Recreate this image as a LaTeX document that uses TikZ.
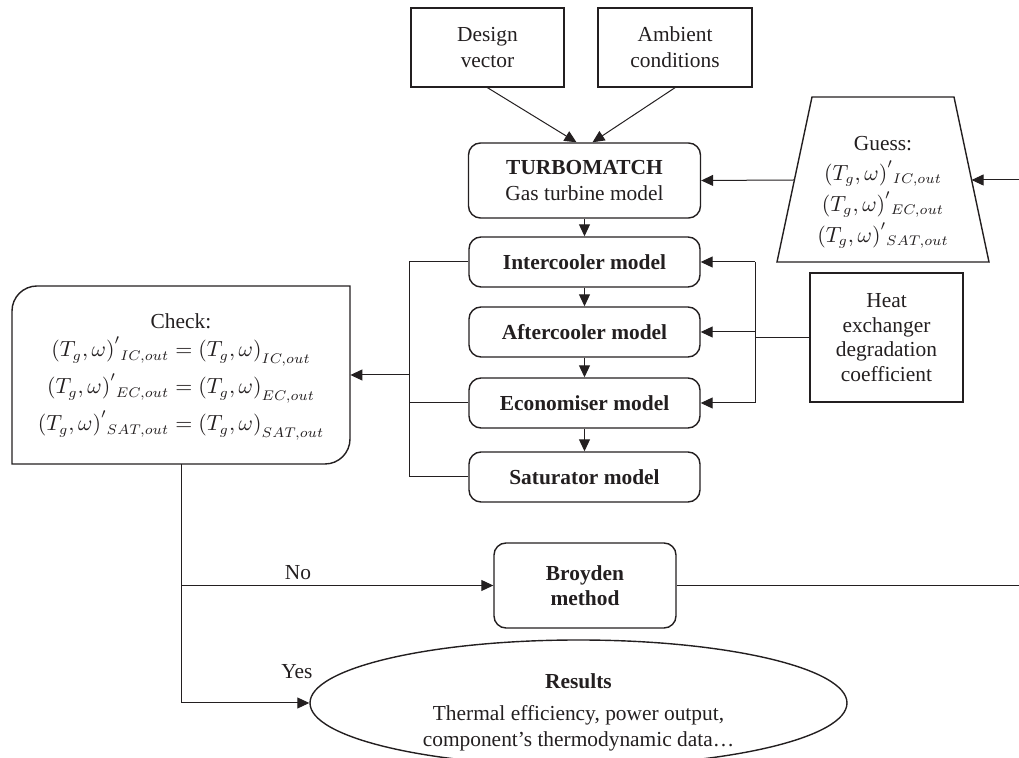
\documentclass[tikz,border=0pt]{standalone}
\usepackage{fontspec}
\setmainfont{Liberation Serif}
\usetikzlibrary{arrows.meta,calc,shapes.geometric}
\definecolor{lc}{RGB}{35,31,32}
\newcommand{\tgw}{\bigl(T_g,\omega\bigr)}
\begin{document}
\begin{tikzpicture}[x=0.5pt,y=-0.5pt,
  every node/.style={font=\fontsize{10.7}{13}\selectfont, text=lc},
  box/.style={draw=lc, line width=0.7pt, inner sep=0pt, align=center},
  rbox/.style={box, rounded corners=6pt},
  mbox/.style={rbox, minimum width=115.5pt, minimum height=25pt, font=\fontsize{10.7}{13}\selectfont\bfseries},
  conn/.style={draw=lc, line width=0.5pt},
  arr/.style={conn, -{Triangle[length=6pt,width=5.5pt]}},
  shapeline/.style={draw=lc, line width=0.7pt},
]
\useasboundingbox (0,0) rectangle (1019,758);

% top inputs
\node[box, minimum width=76.5pt, minimum height=39.5pt] (dv) at (487.5,47.5) {Design\\vector};
\node[box, minimum width=77pt, minimum height=39.5pt] (amb) at (675,47.5) {Ambient\\conditions};

% main chain
\node[rbox, minimum width=116pt, minimum height=37.5pt] (tm) at (584.5,180.5) {\textbf{TURBOMATCH}\\Gas turbine model};
\node[mbox] (ic) at (584.5,262) {Intercooler model};
\node[mbox] (ac) at (584.5,332) {Aftercooler model};
\node[mbox] (ec) at (584.5,403) {Economiser model};
\node[mbox] (sat) at (584.5,477) {Saturator model};

% guess trapezoid
\path[shapeline] (812,97) -- (954,97) -- (989,262) -- (777,262) -- cycle;
\node[align=center, inner sep=0pt] (guess) at (883,192) {Guess:\\[2pt]
  $\tgw'{}_{IC,out}$\\[2.5pt]
  $\tgw'{}_{EC,out}$\\[2.5pt]
  $\tgw'{}_{SAT,out}$};
\coordinate (gL) at (794.4,180);
\coordinate (gR) at (971.6,180);

% heat exchanger
\node[box, minimum width=76.5pt, minimum height=64.5pt, font=\fontsize{10.7}{12.3}\selectfont] (hx) at (886.5,337.5) {Heat\\exchanger\\degradation\\coefficient};

% check box
\path[shapeline] (12,464) -- (12,311) .. controls (12,297.2) and (23.2,286) .. (37,286) -- (350,286) -- (350,439) .. controls (350,452.8) and (338.8,464) .. (325,464) -- cycle;
\node[align=center, inner sep=0pt, minimum width=169pt, minimum height=89pt] (check) at (181,375) {};
\node[align=center, inner sep=0pt] (checktext) at (181,377) {Check:\\[1pt]
  $\tgw'{}_{IC,out}=\tgw_{IC,out}$\\[3pt]
  $\tgw'{}_{EC,out}=\tgw_{EC,out}$\\[3pt]
  $\tgw'{}_{SAT,out}=\tgw_{SAT,out}$};

% Broyden
\node[rbox, minimum width=91pt, minimum height=42.5pt, font=\fontsize{10.7}{12.5}\selectfont\bfseries] (br) at (585,585.5) {Broyden\\method};

% Results
\node[draw=lc, line width=0.7pt, ellipse, minimum width=268.5pt, minimum height=63pt, inner sep=0pt] (res) at (578.5,703) {};
\node[align=center, inner sep=0pt] (restext) at (578.5,712) {\textbf{Results}\\[3pt]Thermal efficiency, power output,\\component’s thermodynamic data…};

% labels
\node (no) at (298,573) {No};
\node (yes) at (297,672) {Yes};

% helper coordinates
\coordinate (lbus) at (409,0);
\coordinate (rbus) at (755,0);
\coordinate (rt) at (1022,0);

% connectors
\draw[arr] (dv.south) -- ($(tm.north)+(-8,0)$);
\draw[arr] (amb.south) -- ($(tm.north)+(8,0)$);
\draw[arr] (tm) -- (ic);
\draw[arr] (ic) -- (ac);
\draw[arr] (ac) -- (ec);
\draw[arr] (ec) -- (sat);
\draw[arr] (gL) -- (tm.east);
\draw[arr] (br.east) -- (br.east -| rt) -- (gR -| rt) -- (gR);

\draw[conn] (ic.west) -- (ic.west -| lbus) -- (sat.west -| lbus) -- (sat.west);
\draw[conn] (ec.west) -- (ec.west -| lbus);
\draw[arr] (check.east -| lbus) -- (check.east);

\draw[conn] (ic.east -| rbus) -- (ec.east -| rbus);
\draw[arr] (ic.east -| rbus) -- (ic.east);
\draw[arr] (ac.east -| rbus) -- (ac.east);
\draw[arr] (ec.east -| rbus) -- (ec.east);
\draw[conn] (hx.west) -- (hx.west -| rbus);

\draw[arr] (check.south) |- (res.west);
\draw[arr] (check.south |- br.west) -- (br.west);
\end{tikzpicture}
\end{document}
